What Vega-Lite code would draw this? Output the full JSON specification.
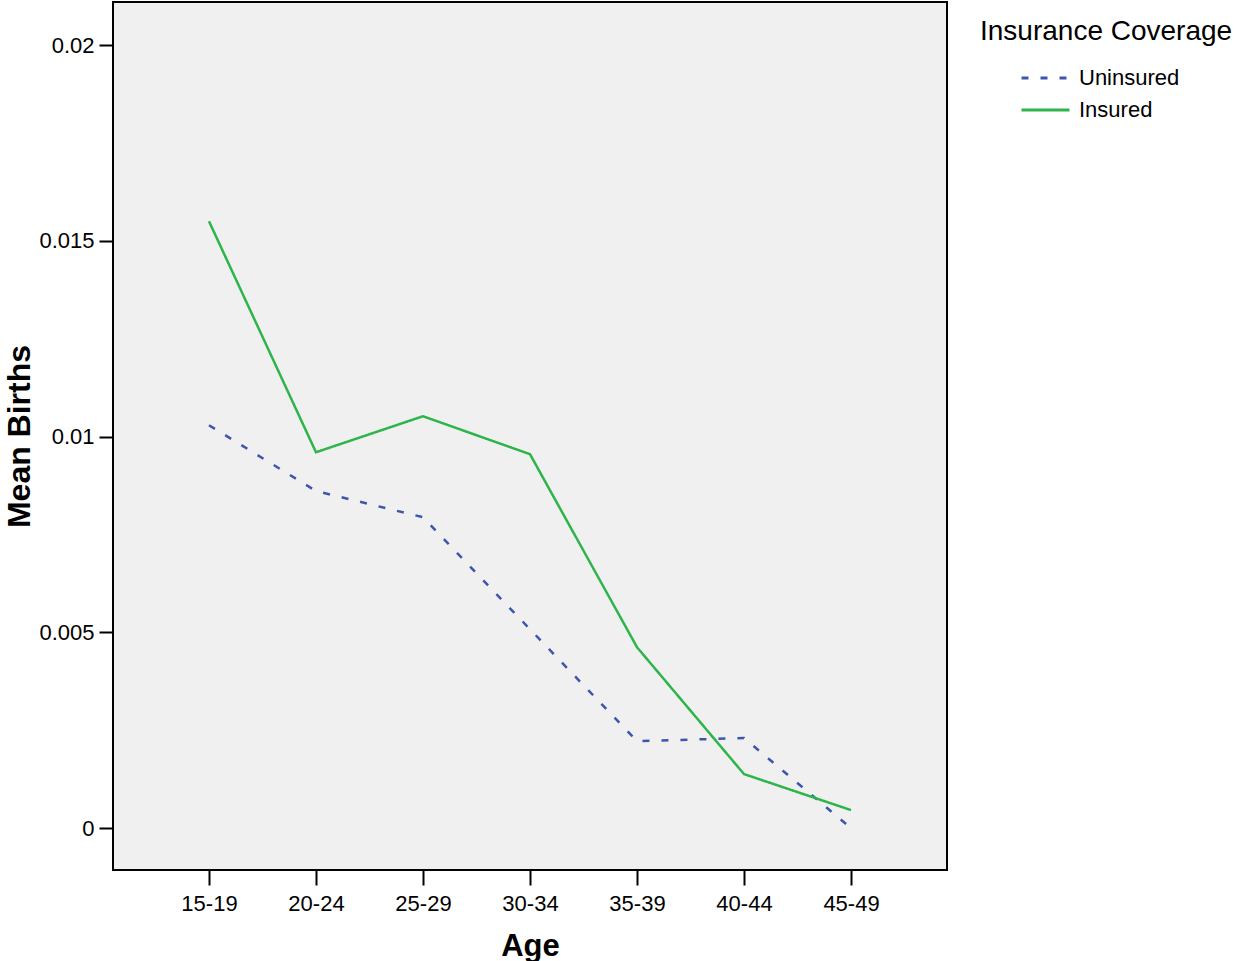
{
  "$schema": "https://vega.github.io/schema/vega-lite/v6.json",
  "autosize": {"type": "none"},
  "width": 834,
  "height": 868,
  "padding": {"left": 113, "top": 2, "right": 287, "bottom": 91},
  "background": "white",
  "config": {
    "font": "Liberation Sans",
    "view": {"fill": "#f0f0f0", "stroke": "black", "strokeWidth": 2}
  },
  "data": {
    "values": [
      {"age": "15-19", "coverage": "Uninsured", "births": 0.01029},
      {"age": "20-24", "coverage": "Uninsured", "births": 0.00861},
      {"age": "25-29", "coverage": "Uninsured", "births": 0.00794},
      {"age": "30-34", "coverage": "Uninsured", "births": 0.00508},
      {"age": "35-39", "coverage": "Uninsured", "births": 0.00222},
      {"age": "40-44", "coverage": "Uninsured", "births": 0.00230},
      {"age": "45-49", "coverage": "Uninsured", "births": 0.0},
      {"age": "15-19", "coverage": "Insured", "births": 0.01550},
      {"age": "20-24", "coverage": "Insured", "births": 0.00960},
      {"age": "25-29", "coverage": "Insured", "births": 0.01052},
      {"age": "30-34", "coverage": "Insured", "births": 0.00955},
      {"age": "35-39", "coverage": "Insured", "births": 0.00462},
      {"age": "40-44", "coverage": "Insured", "births": 0.00138},
      {"age": "45-49", "coverage": "Insured", "births": 0.00046}
    ]
  },
  "mark": {"type": "line", "strokeWidth": 2.5},
  "encoding": {
    "x": {
      "field": "age", "type": "ordinal",
      "scale": {"type": "point", "padding": 0.897},
      "axis": {
        "title": "Age", "titleFontSize": 31, "titleFontWeight": "bold", "titleColor": "black",
        "titleY": 85, "titleBaseline": "alphabetic",
        "labelAngle": 0, "labelFontSize": 22, "labelColor": "black", "labelPadding": 8,
        "tickSize": 15, "tickWidth": 2, "tickColor": "black",
        "domain": false, "grid": false
      }
    },
    "y": {
      "field": "births", "type": "quantitative",
      "scale": {"domain": [-0.00107, 0.0211], "nice": false, "zero": false},
      "axis": {
        "title": "Mean Births", "titleFontSize": 32, "titleFontWeight": "bold", "titleColor": "black",
        "titleX": -84, "titleBaseline": "alphabetic",
        "values": [0, 0.005, 0.01, 0.015, 0.02], "format": "~f",
        "labelFontSize": 22, "labelColor": "black", "labelPadding": 5,
        "tickSize": 14, "tickWidth": 2, "tickColor": "black",
        "domain": false, "grid": false
      }
    },
    "color": {
      "field": "coverage", "type": "nominal",
      "scale": {"domain": ["Uninsured", "Insured"], "range": ["#3c56b0", "#2db54a"]},
      "legend": {
        "title": "Insurance Coverage", "orient": "none", "legendX": 867, "legendY": 16,
        "titleFontSize": 28, "titleFontWeight": "normal", "titleColor": "black", "titlePadding": 16,
        "titleLimit": 500, "labelLimit": 400,
        "labelFontSize": 22, "labelColor": "black", "labelOffset": 8,
        "symbolType": "stroke", "symbolSize": 2304, "symbolStrokeWidth": 3, "symbolOffset": 40,
        "clipHeight": 32, "rowPadding": 0
      }
    },
    "strokeDash": {
      "field": "coverage", "type": "nominal",
      "scale": {"domain": ["Uninsured", "Insured"], "range": [[7, 12], [1, 0]]},
      "legend": null
    }
  }
}
